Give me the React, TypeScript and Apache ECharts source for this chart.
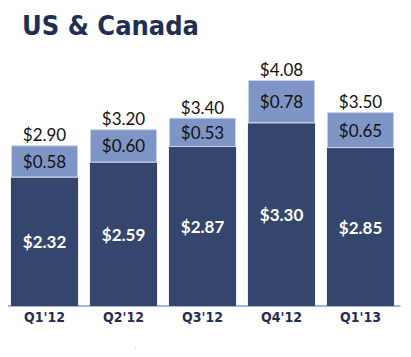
import React, { useEffect, useRef } from "react";
import * as echarts from "echarts";

const categories = ["Q1'12", "Q2'12", "Q3'12", "Q4'12", "Q1'13"];
const baseValues = [2.32, 2.59, 2.87, 3.3, 2.85];
const topValues = [0.58, 0.6, 0.53, 0.78, 0.65];
const totalValues = [2.9, 3.2, 3.4, 4.08, 3.5];

const fmt = (v: number) => "$" + v.toFixed(2);

export default function App() {
  const ref = useRef<HTMLDivElement>(null);
  useEffect(() => {
    if (!ref.current) return;
    const chart = echarts.init(ref.current, null, { renderer: "svg" });
    chart.setOption({
      animation: false,
      title: {
        text: "US & Canada",
        left: 17,
        top: 7,
        textStyle: {
          fontFamily: "DejaVu Sans Condensed",
          fontWeight: "bold",
          fontSize: 27,
          color: "#1F2E52",
        },
      },
      graphic: [
        {
          type: "line",
          shape: { x1: 135.5, y1: 346, x2: 135.5, y2: 357 },
          style: { stroke: "#E4E4E4", lineWidth: 1 },
        },
      ],
      grid: { left: 5, right: 11, top: 29, bottom: 51, containLabel: false },
      xAxis: {
        type: "category",
        data: categories,
        axisLine: { lineStyle: { color: "#8E9DC2", width: 1.5 } },
        axisTick: { show: false },
        axisLabel: {
          fontFamily: "DejaVu Sans Condensed",
          fontWeight: "bold",
          fontSize: 14,
          color: "#1F2E52",
          margin: 4,
        },
      },
      yAxis: {
        type: "value",
        min: 0,
        max: 5,
        show: false,
        splitLine: { show: false },
      },
      series: [
        {
          type: "bar",
          stack: "s",
          data: baseValues,
          barCategoryGap: "15%",
          itemStyle: { color: "#34466E" },
          label: {
            show: true,
            position: "inside",
            formatter: (p: any) => fmt(p.value),
            fontFamily: "Lato",
            fontWeight: "bold",
            fontSize: 17,
            color: "#FFFFFF",
          },
        },
        {
          type: "bar",
          stack: "s",
          data: topValues,
          barCategoryGap: "15%",
          itemStyle: { color: "#7F95C6", borderColor: "#C9D3EA", borderWidth: 1 },
          label: {
            show: true,
            position: "inside",
            formatter: (p: any) => fmt(p.value),
            fontFamily: "Lato",
            fontSize: 17,
            color: "#111111",
          },
        },
        {
          type: "bar",
          data: totalValues,
          barGap: "-100%",
          barCategoryGap: "15%",
          z: 0,
          itemStyle: { color: "rgba(0,0,0,0)" },
          label: {
            show: true,
            position: "top",
            distance: 2,
            formatter: (p: any) => fmt(p.value),
            fontFamily: "Lato",
            fontSize: 17,
            color: "#111111",
          },
        },
      ],
    });
    return () => chart.dispose();
  }, []);
  return <div ref={ref} style={{ width: 411, height: 357, margin: -8 }} />;
}
